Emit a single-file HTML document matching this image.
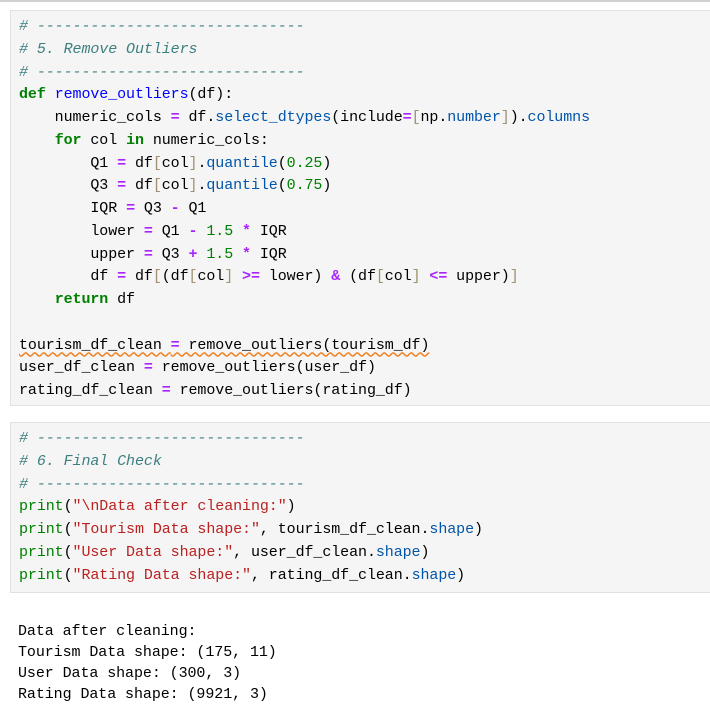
<!DOCTYPE html>
<html><head><meta charset="utf-8"><style>
body{margin:0;background:#fff;width:710px;height:716px;overflow:hidden;position:relative;font-family:"Liberation Mono",monospace;font-size:15px;}
.top{position:absolute;left:0;top:0;width:710px;height:2px;background:#d0d0d0}
.cell{position:absolute;left:10px;width:700px;background:#f5f5f5;border:1px solid #e0e0e0;border-right:none;box-sizing:border-box}
pre{margin:0;font:inherit;line-height:22.75px;color:#000;position:absolute;left:8px;white-space:pre;letter-spacing:-0.08px}
.c{color:#3d7f7f;font-style:italic}
.k{color:#008000;font-weight:bold}
.f{color:#0000ff}
.o{color:#aa22ff;font-weight:bold}
.n{color:#008000}
.a{color:#0055aa}
.b{color:#a09070}
.s{color:#ba2121}
.p{color:#008000}
.w{text-decoration:underline wavy #f08020;text-underline-offset:3px}
</style></head><body>
<div class="top"></div>
<div class="cell" style="top:10px;height:396px"><pre style="top:5px"><span class="c"># ------------------------------</span>
<span class="c"># 5. Remove Outliers</span>
<span class="c"># ------------------------------</span>
<span class="k">def</span> <span class="f">remove_outliers</span>(df):
    numeric_cols <span class="o">=</span> df.<span class="a">select_dtypes</span>(include<span class="o">=</span><span class="b">[</span>np.<span class="a">number</span><span class="b">]</span>).<span class="a">columns</span>
    <span class="k">for</span> col <span class="k">in</span> numeric_cols:
        Q1 <span class="o">=</span> df<span class="b">[</span>col<span class="b">]</span>.<span class="a">quantile</span>(<span class="n">0.25</span>)
        Q3 <span class="o">=</span> df<span class="b">[</span>col<span class="b">]</span>.<span class="a">quantile</span>(<span class="n">0.75</span>)
        IQR <span class="o">=</span> Q3 <span class="o">-</span> Q1
        lower <span class="o">=</span> Q1 <span class="o">-</span> <span class="n">1.5</span> <span class="o">*</span> IQR
        upper <span class="o">=</span> Q3 <span class="o">+</span> <span class="n">1.5</span> <span class="o">*</span> IQR
        df <span class="o">=</span> df<span class="b">[</span>(df<span class="b">[</span>col<span class="b">]</span> <span class="o">&gt;=</span> lower) <span class="o">&amp;</span> (df<span class="b">[</span>col<span class="b">]</span> <span class="o">&lt;=</span> upper)<span class="b">]</span>
    <span class="k">return</span> df

<span class="w">tourism_df_clean <span class="o">=</span> remove_outliers(tourism_df)</span>
user_df_clean <span class="o">=</span> remove_outliers(user_df)
rating_df_clean <span class="o">=</span> remove_outliers(rating_df)</pre></div>
<div class="cell" style="top:422px;height:171px"><pre style="top:5px"><span class="c"># ------------------------------</span>
<span class="c"># 6. Final Check</span>
<span class="c"># ------------------------------</span>
<span class="p">print</span>(<span class="s">"\nData after cleaning:"</span>)
<span class="p">print</span>(<span class="s">"Tourism Data shape:"</span>, tourism_df_clean.<span class="a">shape</span>)
<span class="p">print</span>(<span class="s">"User Data shape:"</span>, user_df_clean.<span class="a">shape</span>)
<span class="p">print</span>(<span class="s">"Rating Data shape:"</span>, rating_df_clean.<span class="a">shape</span>)</pre></div>
<pre style="left:18px;top:621px;line-height:21px">Data after cleaning:
Tourism Data shape: (175, 11)
User Data shape: (300, 3)
Rating Data shape: (9921, 3)</pre>
</body></html>
